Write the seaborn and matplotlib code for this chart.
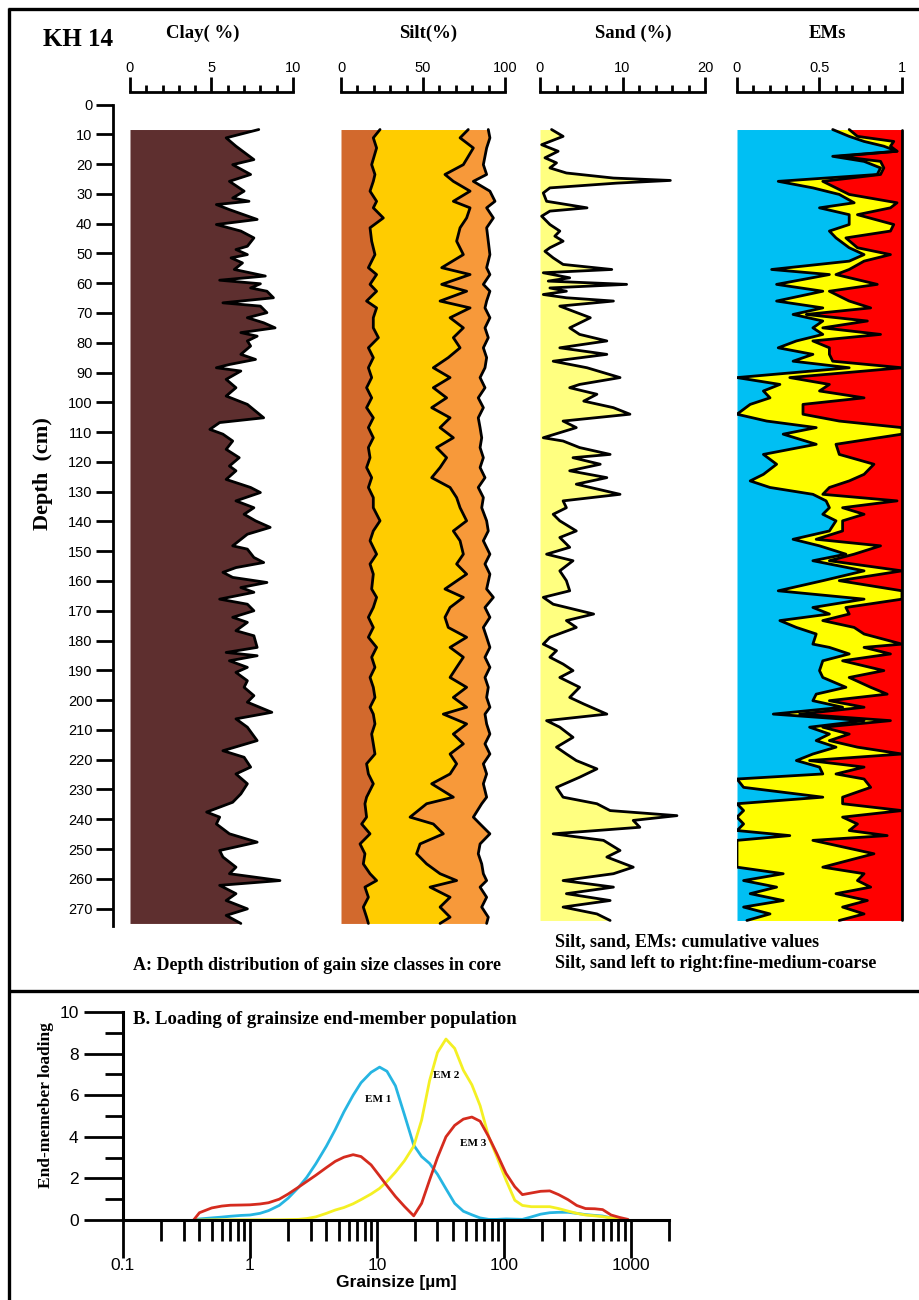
import numpy as np
import pandas as pd
import matplotlib
matplotlib.use("Agg")
import matplotlib.pyplot as plt
from matplotlib.lines import Line2D
from matplotlib.ticker import FixedLocator, NullFormatter
import seaborn as sns

# ---------------- Core KH 14: clay content (%) ----------------
clay_depth = [8.4, 11.2, 14.0, 18.5, 20.2, 23.5, 25.8, 29.1, 31.4, 32.5,
              33.6, 35.3, 38.6, 40.3, 42.5, 44.8, 47.6, 48.7, 50.4, 51.5,
              53.2, 55.4, 57.6, 59.0, 60.2, 61.6, 62.7, 64.9, 66.6, 67.7,
              69.9, 71.6, 73.3, 75.0, 76.6, 77.8, 79.4, 81.1, 83.9, 85.6,
              87.3, 88.4, 89.5, 92.3, 95.1, 97.9, 100.7, 105.2, 106.8, 109.1,
              110.7, 113.0, 115.8, 118.6, 121.4, 123.0, 125.9, 128.6, 130.3, 133.1,
              135.4, 137.6, 139.8, 142.0, 144.3, 148.2, 149.3, 152.1, 153.8, 155.5,
              157.1, 158.8, 160.5, 162.2, 163.8, 166.1, 167.8, 170.0, 172.2, 173.9,
              176.7, 178.4, 182.3, 184.0, 185.1, 186.8, 189.0, 190.7, 193.5, 195.7,
              198.5, 200.7, 204.1, 206.3, 209.1, 213.6, 217.0, 219.2, 222.5, 224.8,
              228.1, 231.5, 234.3, 237.6, 239.3, 241.6, 244.9, 247.7, 250.5, 252.7,
              256.1, 258.3, 260.6, 262.2, 265.0, 267.3, 270.1, 272.3, 275.0]
clay_pct = [7.9, 5.9, 6.5, 7.6, 6.3, 7.4, 6.1, 7.0, 6.3, 7.3,
            5.3, 6.1, 7.8, 5.3, 6.8, 7.6, 7.2, 6.5, 7.2, 6.2,
            6.9, 6.4, 8.3, 5.5, 8.0, 7.4, 8.4, 8.8, 5.7, 8.0,
            8.4, 7.2, 8.2, 8.9, 6.8, 7.8, 7.2, 7.4, 6.8, 7.7,
            6.1, 5.3, 6.8, 5.9, 6.5, 5.9, 7.2, 8.2, 5.5, 4.9,
            5.7, 6.3, 5.9, 6.7, 6.1, 6.5, 5.9, 7.4, 8.0, 6.5,
            7.6, 7.0, 7.7, 8.6, 7.2, 6.3, 7.2, 7.6, 8.2, 6.5,
            5.7, 6.3, 8.4, 6.8, 7.6, 5.5, 7.2, 7.6, 6.3, 7.2,
            6.5, 7.6, 7.8, 5.9, 7.8, 6.1, 7.2, 6.5, 7.2, 7.0,
            7.6, 7.2, 8.7, 6.5, 7.2, 7.8, 5.7, 7.0, 7.4, 6.5,
            7.2, 6.8, 6.3, 4.7, 5.5, 5.3, 6.1, 7.8, 5.5, 5.7,
            6.5, 6.1, 9.2, 5.5, 6.5, 5.9, 7.2, 5.9, 6.8]

# ---------------- Silt, cumulative % (fine / +medium / +coarse) ----------------
silt_depth = [8.4, 11.2, 14.6, 20.2, 23.5, 25.8, 29.1, 32.5, 34.7, 38.1,
              41.4, 45.9, 50.4, 54.8, 57.1, 60.4, 62.7, 66.0, 68.3, 71.6,
              75.0, 78.3, 81.7, 85.0, 88.4, 91.7, 95.1, 98.5, 101.8, 105.2,
              108.5, 111.9, 115.2, 118.6, 121.9, 125.3, 128.6, 132.0, 135.4, 139.8,
              143.2, 146.5, 151.0, 154.3, 157.7, 162.7, 165.5, 168.9, 172.2, 175.6,
              178.9, 182.3, 185.6, 189.0, 192.4, 195.7, 199.1, 202.4, 204.7, 208.0,
              211.4, 214.7, 218.1, 221.4, 224.8, 228.1, 232.6, 234.8, 239.3, 241.6,
              244.9, 248.3, 251.6, 255.0, 258.3, 260.6, 262.8, 266.2, 269.5, 272.9,
              275.0]
silt_fine = [23.8, 19.7, 21.7, 18.7, 20.7, 19.7, 17.7, 21.7, 19.7, 25.8,
             17.7, 18.7, 20.7, 16.7, 21.7, 17.7, 21.7, 15.6, 21.7, 19.7,
             19.7, 22.8, 16.7, 19.7, 16.7, 18.7, 15.6, 18.7, 15.6, 19.7,
             16.7, 19.7, 16.7, 17.7, 15.6, 18.7, 16.7, 19.7, 19.7, 23.8,
             19.7, 17.7, 21.7, 17.7, 19.7, 18.7, 21.7, 19.7, 16.7, 19.7,
             16.7, 21.7, 18.7, 20.7, 17.7, 19.7, 20.7, 17.7, 19.7, 20.7,
             18.7, 19.7, 20.7, 15.6, 16.7, 19.7, 15.6, 14.6, 15.6, 12.6,
             17.7, 11.6, 14.6, 13.6, 17.7, 21.7, 14.6, 16.7, 13.6, 15.6,
             16.7]
silt_medium = [77.6, 72.6, 80.7, 74.6, 63.4, 68.5, 78.7, 68.5, 78.7, 76.6,
               72.6, 70.5, 74.6, 61.4, 78.7, 61.4, 76.6, 60.4, 78.7, 66.5,
               74.6, 68.5, 72.6, 65.4, 56.3, 66.5, 56.3, 64.4, 55.3, 66.5,
               60.4, 68.5, 58.3, 64.4, 60.4, 55.3, 66.5, 70.5, 72.6, 76.6,
               68.5, 72.6, 74.6, 70.5, 76.6, 63.4, 74.6, 66.5, 63.4, 65.4,
               76.6, 66.5, 74.6, 70.5, 66.5, 76.6, 68.5, 76.6, 62.4, 76.6,
               68.5, 74.6, 66.5, 70.5, 66.5, 55.3, 68.5, 52.2, 42.1, 56.3,
               62.4, 48.2, 46.1, 52.2, 60.4, 70.5, 54.3, 66.5, 60.4, 66.5,
               60.4]
silt_coarse = [89.8, 90.8, 88.8, 86.8, 88.8, 80.7, 90.8, 93.9, 88.8, 92.9,
               88.8, 89.8, 90.8, 88.8, 90.8, 86.8, 90.8, 88.8, 87.8, 90.8,
               87.8, 89.8, 86.8, 88.8, 87.8, 84.8, 87.8, 83.7, 86.8, 83.7,
               84.8, 85.8, 84.8, 86.8, 84.8, 87.8, 83.7, 86.8, 85.8, 88.8,
               89.8, 86.8, 90.8, 87.8, 90.8, 88.8, 92.9, 87.8, 90.8, 86.8,
               88.8, 90.8, 87.8, 90.8, 87.8, 89.8, 88.8, 90.8, 87.8, 88.8,
               90.8, 87.8, 90.8, 86.8, 88.8, 86.8, 88.8, 85.8, 80.7, 84.8,
               90.8, 84.8, 83.7, 85.8, 86.8, 88.8, 84.8, 88.8, 85.8, 89.8,
               88.8]

# ---------------- Sand (%) ----------------
sand_depth = [8.4, 10.7, 13.5, 15.7, 17.9, 19.6, 21.3, 23.0, 24.7, 25.5,
              26.4, 28.0, 29.7, 32.5, 34.7, 35.8, 37.5, 40.3, 42.5, 44.2,
              45.9, 48.1, 49.3, 51.5, 53.7, 55.4, 56.5, 58.2, 59.3, 60.4,
              61.6, 62.7, 63.8, 64.9, 66.0, 67.7, 69.4, 71.6, 72.7, 75.0,
              77.2, 79.4, 81.7, 83.9, 86.2, 88.4, 91.7, 94.0, 95.1, 97.3,
              99.6, 101.8, 104.0, 106.3, 108.5, 111.9, 113.0, 115.2, 117.5, 118.6,
              120.8, 123.0, 125.3, 127.5, 130.9, 133.1, 135.4, 137.6, 139.8, 143.2,
              145.4, 148.7, 151.0, 153.2, 156.6, 159.9, 163.3, 165.5, 167.8, 171.1,
              173.3, 175.6, 178.9, 181.2, 183.4, 185.6, 187.9, 190.1, 192.4, 195.7,
              199.1, 201.3, 204.7, 206.9, 209.1, 212.5, 215.8, 218.1, 220.3, 223.1,
              225.9, 229.3, 232.6, 234.8, 237.1, 238.8, 240.4, 242.7, 244.9, 247.1,
              250.5, 252.7, 256.1, 258.3, 260.6, 262.8, 265.0, 267.3, 269.5, 271.8,
              274.0]
sand_pct = [1.4, 2.8, 0.2, 2.2, 0.6, 2.0, 1.2, 3.2, 8.9, 15.8,
            9.3, 1.2, 0.4, 0.8, 5.7, 1.2, 0.2, 1.2, 2.4, 1.8,
            2.8, 1.2, 0.6, 1.6, 2.8, 8.7, 0.4, 3.6, 1.0, 10.5,
            1.2, 3.2, 0.4, 3.2, 8.9, 2.4, 4.0, 6.1, 5.3, 3.6,
            4.8, 8.1, 2.4, 8.1, 1.6, 5.7, 9.7, 4.8, 3.6, 6.9,
            5.3, 8.9, 10.9, 2.8, 4.4, 0.4, 2.8, 4.8, 8.5, 4.0,
            7.3, 3.6, 8.1, 4.4, 9.7, 2.8, 3.2, 1.6, 2.4, 4.4,
            2.4, 3.6, 0.8, 4.0, 2.4, 3.2, 3.6, 0.4, 1.6, 6.5,
            3.2, 4.4, 1.2, 0.4, 2.0, 1.2, 2.8, 4.0, 2.4, 4.8,
            3.6, 5.3, 8.1, 0.8, 2.4, 4.0, 2.0, 3.2, 4.4, 6.9,
            4.8, 2.0, 2.8, 6.9, 8.5, 16.6, 11.3, 12.1, 1.6, 7.7,
            9.7, 8.1, 11.3, 8.9, 2.8, 8.9, 3.2, 8.5, 2.8, 6.9,
            8.5]

# ---------------- End-member scores, cumulative (EM1 / EM1+EM2) ----------------
em_depth = [8.4, 10.7, 12.4, 14.0, 15.7, 17.4, 19.1, 21.3, 23.5, 25.8,
            28.0, 30.2, 33.0, 34.7, 37.0, 40.3, 42.5, 44.8, 48.1, 50.4,
            52.6, 55.4, 57.1, 60.4, 62.7, 66.0, 68.3, 70.5, 72.7, 75.0,
            77.2, 79.4, 81.7, 83.9, 86.2, 88.4, 91.7, 94.0, 96.2, 98.5,
            100.7, 104.0, 106.3, 108.5, 110.7, 114.1, 117.5, 120.8, 124.2, 126.4,
            128.6, 130.9, 133.1, 135.4, 137.6, 139.8, 143.2, 146.0, 148.2, 151.0,
            153.2, 156.6, 159.9, 163.3, 166.1, 168.9, 171.1, 173.3, 175.6, 177.8,
            181.2, 182.3, 184.5, 186.8, 190.1, 192.4, 195.7, 198.0, 200.2, 202.4,
            204.7, 206.9, 209.1, 211.4, 213.6, 215.8, 218.1, 220.3, 222.5, 224.8,
            226.5, 229.3, 232.6, 234.8, 237.1, 239.3, 241.6, 243.8, 245.5, 247.1,
            251.6, 256.1, 258.3, 260.6, 262.8, 265.0, 267.3, 269.5, 271.8, 274.0]
em1_cum = [0.58, 0.68, 0.77, 0.89, 0.97, 0.58, 0.77, 0.87, 0.85, 0.25,
           0.46, 0.62, 0.71, 0.50, 0.68, 0.68, 0.56, 0.60, 0.68, 0.77,
           0.68, 0.21, 0.56, 0.24, 0.52, 0.24, 0.52, 0.34, 0.52, 0.46,
           0.52, 0.36, 0.25, 0.46, 0.34, 0.68, 0.00, 0.26, 0.16, 0.20,
           0.08, 0.00, 0.18, 0.48, 0.28, 0.48, 0.16, 0.24, 0.16, 0.08,
           0.20, 0.46, 0.54, 0.56, 0.52, 0.60, 0.56, 0.34, 0.50, 0.66,
           0.46, 0.77, 0.52, 0.25, 0.77, 0.46, 0.56, 0.26, 0.36, 0.48,
           0.46, 0.56, 0.68, 0.52, 0.50, 0.52, 0.66, 0.48, 0.46, 0.64,
           0.22, 0.77, 0.44, 0.56, 0.48, 0.60, 0.46, 0.36, 0.50, 0.52,
           0.00, 0.04, 0.52, 0.00, 0.04, 0.00, 0.04, 0.00, 0.32, 0.00,
           0.00, 0.00, 0.28, 0.04, 0.24, 0.08, 0.28, 0.04, 0.20, 0.06]
em12_cum = [0.68, 0.73, 0.95, 0.93, 0.97, 0.62, 0.87, 0.89, 0.87, 0.52,
            0.60, 0.68, 0.97, 0.93, 0.73, 0.95, 0.93, 0.66, 0.73, 0.93,
            0.77, 0.68, 0.60, 0.85, 0.56, 0.68, 0.81, 0.42, 0.79, 0.52,
            0.87, 0.46, 0.56, 0.56, 0.58, 1.00, 0.32, 0.56, 0.50, 0.77,
            0.40, 0.40, 0.62, 1.00, 1.00, 0.60, 0.62, 0.83, 0.77, 0.68,
            0.56, 0.52, 0.97, 0.64, 0.77, 0.64, 0.64, 0.48, 0.87, 0.71,
            0.56, 1.00, 0.62, 1.00, 1.00, 0.66, 0.68, 0.52, 0.71, 0.77,
            1.00, 0.77, 0.93, 0.64, 0.89, 0.68, 0.81, 0.91, 0.56, 0.77,
            0.38, 0.93, 0.52, 0.68, 0.56, 0.73, 1.00, 0.44, 0.77, 0.60,
            0.77, 0.81, 0.64, 0.64, 1.00, 0.64, 0.73, 0.68, 0.91, 0.46,
            0.83, 0.52, 0.77, 0.73, 0.81, 0.60, 0.79, 0.64, 0.77, 0.62]

# ---------------- End-member loadings vs grain size ----------------
grain_um = [0.36, 0.4, 0.5, 0.6, 0.7, 0.85, 1.0, 1.2, 1.4, 1.7,
            2.0, 2.4, 2.8, 3.3, 4.0, 4.7, 5.5, 6.5, 7.5, 9.0,
            10.5, 12, 14, 16.5, 19.5, 22.5, 26, 30, 35, 41,
            48, 56, 65, 76, 88, 104, 122, 140, 165, 195,
            230, 270, 320, 375, 440, 520, 600, 700, 820, 950]
em1_load = [0.0, 0.05, 0.10, 0.14, 0.18, 0.22, 0.24, 0.32, 0.45, 0.70,
            1.05, 1.55, 2.05, 2.7, 3.55, 4.35, 5.2, 6.0, 6.6, 7.1,
            7.35, 7.15, 6.45, 5.05, 3.6, 3.05, 2.72, 2.2, 1.5, 0.8,
            0.42, 0.25, 0.10, 0.03, 0.03, 0.05, 0.04, 0.03, 0.15, 0.28,
            0.35, 0.37, 0.37, 0.32, 0.26, 0.22, 0.19, 0.10, 0.04, 0.0]
em2_load = [0.0, 0.0, 0.01, 0.01, 0.01, 0.01, 0.01, 0.01, 0.01, 0.01,
            0.02, 0.03, 0.07, 0.15, 0.32, 0.48, 0.60, 0.78, 0.98, 1.25,
            1.52, 1.85, 2.3, 2.85, 3.55, 4.8, 6.7, 8.05, 8.7, 8.25,
            7.2, 6.5, 5.5, 4.0, 3.05, 1.92, 0.95, 0.70, 0.64, 0.64,
            0.64, 0.55, 0.43, 0.32, 0.24, 0.20, 0.16, 0.10, 0.04, 0.0]
em3_load = [0.0, 0.35, 0.58, 0.67, 0.71, 0.72, 0.73, 0.77, 0.83, 1.0,
            1.25, 1.57, 1.85, 2.15, 2.52, 2.82, 3.02, 3.14, 3.05, 2.65,
            2.12, 1.65, 1.13, 0.65, 0.2, 0.8, 1.92, 3.0, 4.0, 4.55,
            4.85, 4.95, 4.75, 4.0, 3.2, 2.24, 1.6, 1.22, 1.3, 1.38,
            1.4, 1.22, 0.98, 0.7, 0.55, 0.54, 0.5, 0.24, 0.12, 0.03]
em_names = ["EM 1", "EM 2", "EM 3"]

depth_ticks = list(range(0, 271, 10))

# ---------------- style ----------------
sns.set_theme(style="white")
plt.rcParams["font.family"] = ["Liberation Sans", "DejaVu Sans"]
plt.rcParams["axes.edgecolor"] = "black"
plt.rcParams["axes.labelcolor"] = "black"
plt.rcParams["xtick.color"] = "black"
plt.rcParams["ytick.color"] = "black"
plt.rcParams["text.color"] = "black"
SERIF = ["Liberation Serif", "DejaVu Serif"]
INK = "black"
LW = 2.0

W, H = 920, 1300
fig = plt.figure(figsize=(W / 100, H / 100), dpi=100)


def box(x0, y0, x1, y1):
    return [x0 / W, 1 - y1 / H, (x1 - x0) / W, (y1 - y0) / H]


Y_TOP, PX_PER_CM, D_MAX = 104.5, 2.978, 276.0
Y_BOT = Y_TOP + D_MAX * PX_PER_CM


def profile_axes(x0, x1):
    ax = fig.add_axes(box(x0, Y_TOP, x1, Y_BOT))
    ax.patch.set_visible(False)
    for side in ("right", "bottom", "left"):
        ax.spines[side].set_visible(False)
    ax.spines["top"].set_position(("outward", 9))
    ax.spines["top"].set_linewidth(2)
    ax.spines["top"].set_color(INK)
    return ax


def finish_profile(ax, xmax, major, labels, minor_step):
    ax.set_xlim(0, xmax)
    ax.set_ylim(D_MAX, 0)
    ax.set_xlabel("")
    ax.set_ylabel("")
    ax.xaxis.set_ticks_position("top")
    ax.xaxis.set_major_locator(FixedLocator(major))
    ax.set_xticklabels(labels)
    ax.xaxis.set_minor_locator(FixedLocator(np.arange(0, xmax + 1e-9, minor_step)))
    ax.xaxis.set_minor_formatter(NullFormatter())
    ax.tick_params(axis="x", which="major", top=True, bottom=False, direction="out",
                   length=11, width=2, pad=1.5, labelsize=10.5, labeltop=True,
                   labelbottom=False)
    ax.tick_params(axis="x", which="minor", top=True, bottom=False, direction="out",
                   length=5, width=2)


def trace(ax, x, y):
    sns.lineplot(x=x, y=y, orient="y", sort=False, estimator=None,
                 color=INK, linewidth=LW, ax=ax)


# ---- clay ----
ax_clay = profile_axes(130, 293)
ax_clay.fill_betweenx(clay_depth, 0, clay_pct, color="#5E2F2F", lw=0)
trace(ax_clay, clay_pct, clay_depth)
finish_profile(ax_clay, 10, [0, 5, 10], ["0", "5", "10"], 1)
ax_clay.spines["left"].set_visible(True)
ax_clay.spines["left"].set_position(("outward", 12))
ax_clay.spines["left"].set_linewidth(2)
ax_clay.set_yticks(depth_ticks)
ax_clay.set_yticklabels([str(d) for d in depth_ticks])
ax_clay.tick_params(axis="y", left=True, direction="out", length=12, width=2,
                    pad=3, labelsize=10.5)

# ---- silt ----
ax_silt = profile_axes(341, 505)
ax_silt.fill_betweenx(silt_depth, 0, silt_fine, color="#D2692D", lw=0)
ax_silt.fill_betweenx(silt_depth, silt_fine, silt_medium, color="#FFCC00", lw=0)
ax_silt.fill_betweenx(silt_depth, silt_medium, silt_coarse, color="#F7993A", lw=0)
for series in (silt_fine, silt_medium, silt_coarse):
    trace(ax_silt, series, silt_depth)
finish_profile(ax_silt, 100, [0, 50, 100], ["0", "50", "100"], 10)
ax_silt.set_yticks([])

# ---- sand ----
ax_sand = profile_axes(540, 705)
ax_sand.fill_betweenx(sand_depth, 0, sand_pct, color="#FFFF80", lw=0)
trace(ax_sand, sand_pct, sand_depth)
finish_profile(ax_sand, 20, [0, 10, 20], ["0", "10", "20"], 2)
ax_sand.set_yticks([])

# ---- end members ----
ax_em = profile_axes(737, 902)
ax_em.fill_betweenx(em_depth, 0, em1_cum, color="#00BFF3", lw=0)
ax_em.fill_betweenx(em_depth, em1_cum, em12_cum, color="#FFFF00", lw=0)
ax_em.fill_betweenx(em_depth, em12_cum, 1, color="#FF0000", lw=0)
trace(ax_em, em1_cum, em_depth)
trace(ax_em, em12_cum, em_depth)
ax_em.plot([1, 1], [em_depth[0], em_depth[-1]], color=INK, lw=LW, clip_on=False)
finish_profile(ax_em, 1, [0, 0.5, 1], ["0", "0.5", "1"], 0.1)
ax_em.set_yticks([])

# ---- panel A headings ----
fig.text(78 / W, 1 - 40 / H, "KH 14", family=SERIF, weight="bold", fontsize=18,
         ha="center", va="center")
for label, xc in (("Clay( %)", 203), ("Silt(%)", 428), ("Sand (%)", 633), ("EMs", 827)):
    fig.text(xc / W, 1 - 33 / H, label, family=SERIF, weight="bold", fontsize=13.5,
             ha="center", va="center")
fig.text(43 / W, 1 - 474 / H, "Depth  (cm)", family=SERIF, weight="bold", fontsize=16,
         rotation=90, ha="center", va="center")
fig.text(133 / W, 1 - 966 / H, "A: Depth distribution of gain size classes in core",
         family=SERIF, weight="bold", fontsize=13, ha="left", va="center")
fig.text(555 / W, 1 - 942 / H, "Silt, sand, EMs: cumulative values",
         family=SERIF, weight="bold", fontsize=13, ha="left", va="center")
fig.text(555 / W, 1 - 964 / H, "Silt, sand left to right:fine-medium-coarse",
         family=SERIF, weight="bold", fontsize=13, ha="left", va="center")

# ---- panel B: end-member loadings ----
ax_b = fig.add_axes(box(123, 1012, 669, 1220))
ax_b.patch.set_visible(False)
ax_b.set_xscale("log")
loads = pd.DataFrame({
    "size": grain_um * 3,
    "loading": em1_load + em2_load + em3_load,
    "member": [em_names[0]] * len(grain_um) + [em_names[1]] * len(grain_um)
              + [em_names[2]] * len(grain_um),
})
sns.lineplot(data=loads, x="size", y="loading", hue="member",
             palette={"EM 1": "#26B5E2", "EM 2": "#F4F023", "EM 3": "#D52B1E"},
             estimator=None, sort=False, linewidth=2.0, legend=False, ax=ax_b)
ax_b.set_xlim(0.1, 2000)
ax_b.set_ylim(0, 10)
for side in ("top", "right"):
    ax_b.spines[side].set_visible(False)
for side in ("left", "bottom"):
    ax_b.spines[side].set_linewidth(2.2)
    ax_b.spines[side].set_color(INK)
ax_b.xaxis.set_major_locator(FixedLocator([0.1, 1, 10, 100, 1000]))
ax_b.set_xticklabels(["0.1", "1", "10", "100", "1000"])
minor_x = [m * 10.0 ** e for e in range(-1, 3) for m in range(2, 10)] + [2000]
ax_b.xaxis.set_minor_locator(FixedLocator(minor_x))
ax_b.xaxis.set_minor_formatter(NullFormatter())
ax_b.yaxis.set_major_locator(FixedLocator([0, 2, 4, 6, 8, 10]))
ax_b.yaxis.set_minor_locator(FixedLocator([1, 3, 5, 7, 9]))
ax_b.tick_params(axis="x", which="major", bottom=True, direction="out", length=27, width=2,
                 pad=0.5, labelsize=12.5)
ax_b.tick_params(axis="x", which="minor", bottom=True, direction="out", length=15, width=2)
ax_b.tick_params(axis="y", which="major", left=True, direction="out", length=28, width=2,
                 pad=4, labelsize=12.5)
ax_b.tick_params(axis="y", which="minor", left=True, direction="out", length=13, width=2)
ax_b.set_xlabel("Grainsize [\u00b5m]", fontsize=12.5, weight="bold", labelpad=1,
                color=INK)
ax_b.set_ylabel("")
fig.text(46 / W, 1 - 1105 / H, "End-memeber loading", family=SERIF, weight="bold",
         fontsize=12.5, rotation=90, ha="center", va="center")
for name, gx, gy in (("EM 1", 10.2, 5.8), ("EM 2", 34.9, 6.94), ("EM 3", 57.0, 3.7)):
    ax_b.text(gx, gy, name, family=SERIF, weight="bold", fontsize=8, ha="center", va="center")
fig.text(133 / W, 1 - 1019 / H, "B. Loading of grainsize end-member population",
         family=SERIF, weight="bold", fontsize=13.5, ha="left", va="center")

# ---- frame ----
frame_kw = dict(color=INK, lw=2.4, transform=fig.transFigure, solid_capstyle="butt")
fig.add_artist(Line2D([9 / W, 9 / W], [1 - 8 / H, 0], **frame_kw))
fig.add_artist(Line2D([8 / W, 1], [1 - 9 / H, 1 - 9 / H], **frame_kw))
fig.add_artist(Line2D([8 / W, 1], [1 - 991 / H, 1 - 991 / H], **frame_kw))

fig.savefig("out.png", dpi=100, facecolor="white")
